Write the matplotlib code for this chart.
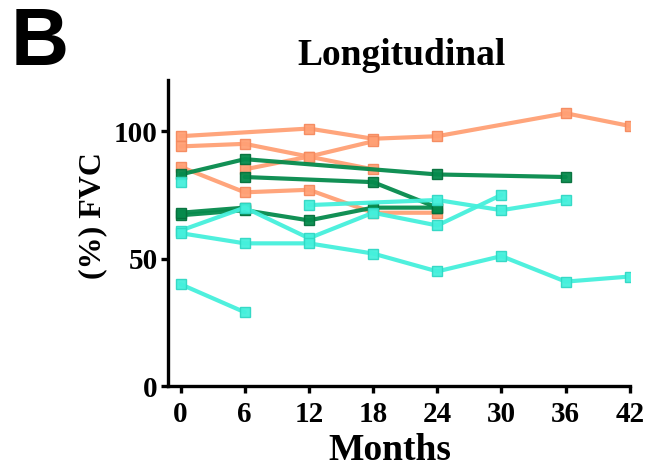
import matplotlib.pyplot as plt

# months and %FVC per patient
orange_x = [[0, 12, 18, 24, 36, 42], [0, 6, 12, 18], [0, 6, 12, 18, 24], [6, 12, 18]]
orange_y = [[98, 101, 97, 98, 107, 102], [94, 95, 90, 85], [86, 76, 77, 68, 68], [85, 90, 96]]

green_x = [[0, 6, 24, 36], [6, 18, 24], [0, 6, 12, 18, 24], [0, 6]]
green_y = [[83, 89, 83, 82], [82, 80, 70], [67, 69, 65, 70, 70], [68, 70]]

cyan_x = [[0], [0, 6, 12, 18, 24, 30], [0, 6, 12, 18, 24, 30, 36, 42], [12, 24, 30, 36], [0, 6]]
cyan_y = [[80], [61, 70, 58, 68, 63, 75], [60, 56, 56, 52, 45, 51, 41, 43], [71, 73, 69, 73], [40, 29]]

xticks = [0, 6, 12, 18, 24, 30, 36, 42]
yticks = [0, 50, 100]

fig = plt.figure(figsize=(6.5, 4.71), dpi=100)
ax = fig.add_axes([0.258, 0.180, 0.711, 0.650])

groups = [
    (orange_x, orange_y, "#FFA075", "#F58A5E"),
    (green_x, green_y, "#058A4C", "#04703C"),
    (cyan_x, cyan_y, "#45F0DC", "#30D8C4"),
]
for xs, ys, col, edge in groups:
    for x, y in zip(xs, ys):
        ax.plot(x, y, color=col, lw=3, marker="s", ms=7, mfc=col, mec=edge,
                mew=1, alpha=0.95, solid_capstyle="round")

ax.set_xlim(-1.2, 42)
ax.set_ylim(0, 120)
ax.set_xticks(xticks)
ax.set_yticks(yticks)

for s in ["top", "right"]:
    ax.spines[s].set_visible(False)
for s in ["left", "bottom"]:
    ax.spines[s].set_linewidth(2.4)
ax.tick_params(width=2.4, length=5, labelsize=21)
ax.tick_params(axis="x", pad=6)
ax.tick_params(axis="y", pad=2)
for lab in ax.get_xticklabels() + ax.get_yticklabels():
    lab.set_family("Liberation Serif")
    lab.set_weight("bold")

ax.set_xlabel("Months", family="Liberation Serif", weight="bold", fontsize=27)
ax.xaxis.set_label_coords(0.48, -0.152)
ax.set_ylabel("(%) FVC", family="Liberation Serif", weight="bold", fontsize=23)
ax.yaxis.set_label_coords(-0.13, 0.556)

fig.text(0.618, 1 - 65 / 471, "Longitudinal", family="Liberation Serif", weight="bold",
         fontsize=27, ha="center", va="baseline")

fig.text(0.016, 0.987, "B", family="Liberation Sans", weight="bold", fontsize=58,
         va="top", ha="left")

fig.savefig("out.png", dpi=100)
